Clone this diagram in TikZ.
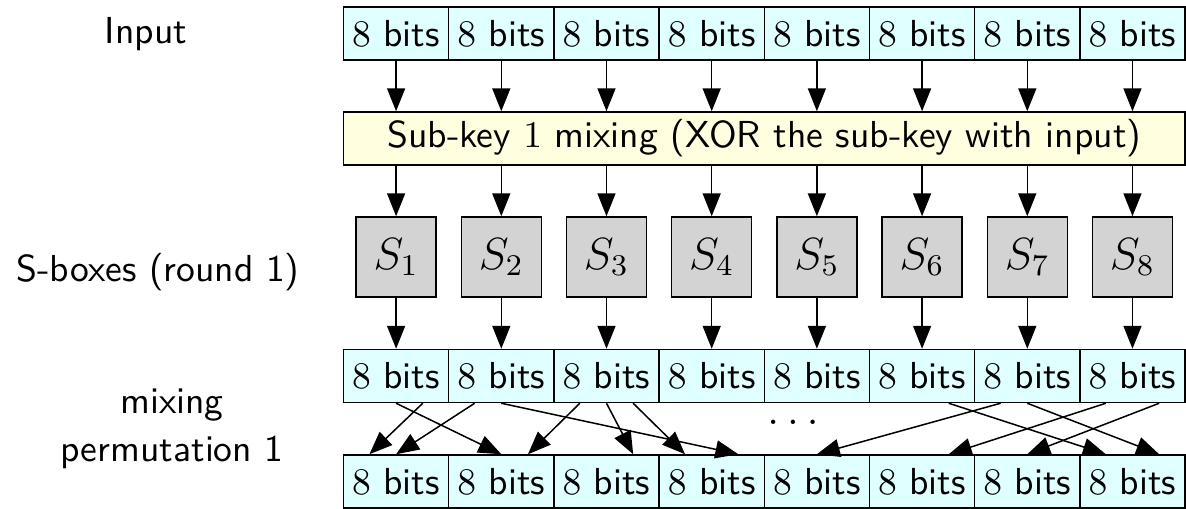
\documentclass[tikz,border=0pt]{standalone}
\usetikzlibrary{arrows.meta,calc}
\definecolor{boxcyan}{HTML}{E0FFFF}
\definecolor{keyyellow}{HTML}{FFFFE0}
\definecolor{sgray}{HTML}{D3D3D3}
\begin{document}
\begin{tikzpicture}[x=0.266pt,y=-0.266pt, font=\sffamily,
  bitbox/.style={draw, fill=boxcyan, minimum width=27.98pt, minimum height=14.1pt, inner sep=0pt},
  keybox/.style={draw, fill=keyyellow, minimum width=223.9pt, minimum height=14.1pt, inner sep=0pt},
  sbox/.style={draw, fill=sgray, minimum width=21.28pt, minimum height=21.28pt, inner sep=0pt, font=\large},
  arr/.style={-{Triangle[length=6.1pt,width=4.8pt]}}]
\useasboundingbox (0,0) rectangle (1186,509);
% rows of boxes
\foreach \i in {1,...,8} {
  \pgfmathsetmacro\cx{343.5+105.2*(\i-0.5)}
  \node[bitbox] (t\i) at (\cx,33.5) {$8$ bits};
  \node[sbox] (s\i) at (\cx,257) {$S_{\i}$};
  \node[bitbox] (m\i) at (\cx,376) {$8$ bits};
  \node[bitbox] (b\i) at (\cx,481.5) {$8$ bits};
}
\node[keybox] (k) at (764.3,138.5) {Sub-key $1$ mixing (XOR the sub-key with input)};
% vertical arrows
\foreach \i in {1,...,8} {
  \draw[arr] (t\i) -- (t\i |- k.north);
  \draw[arr] (k.south -| s\i) -- (s\i);
  \draw[arr] (s\i) -- (m\i);
}
% permutation arrows
\foreach \a/\p/\b/\q in {1/.5/2/.5, 1/.75/1/.25, 2/.25/1/.5, 2/.5/4/.75,
                         3/.25/2/.75, 3/.5/3/.75, 3/.75/4/.25, 6/.75/8/.25,
                         7/.25/5/.5, 7/.5/8/.75, 8/.25/6/.75, 8/.75/7/.5} {
  \draw[arr] ($(m\a.south west)!\p!(m\a.south east)$) -- ($(b\b.north west)!\q!(b\b.north east)$);
}
\node[inner sep=0pt] (dots) at (793,422) {\large$\ldots$};
% labels
\node (lin) at (146,34) {Input};
\node (lsb) at (158,272) {S-boxes (round 1)};
\node[align=center] (lmp) at (172,429) {mixing\\[0.8pt]permutation 1};
\end{tikzpicture}
\end{document}
